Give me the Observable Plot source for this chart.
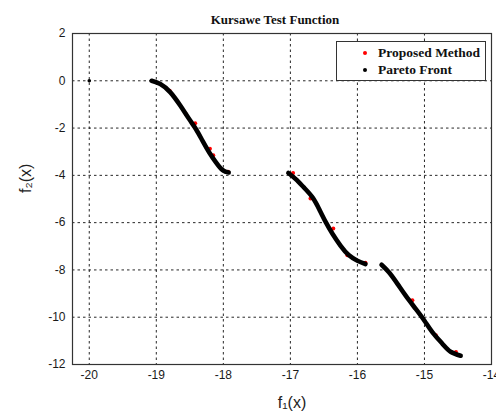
<!DOCTYPE html>
<html>
<head>
<meta charset="utf-8">
<script src="https://cdn.jsdelivr.net/npm/d3@7"></script>
<script src="https://cdn.jsdelivr.net/npm/@observablehq/plot@0.6"></script>
<style>
  html, body { margin: 0; padding: 0; background: #fff; }
  #wrap { position: relative; width: 496px; height: 418px; }
  #legend {
    position: absolute; left: 336px; top: 41px; width: 150px; height: 40px;
    border: 1px solid #333; background: #fff; box-sizing: border-box;
    font-family: "Liberation Serif", "DejaVu Serif", serif; font-weight: bold; font-size: 13.5px;
    color: #111;
  }
  .row { position: absolute; left: 41px; white-space: nowrap; line-height: 16px; }
  .mk { position: absolute; left: -15px; top: 6px; width: 4px; height: 4px; border-radius: 50%; }
</style>
</head>
<body>
<div id="wrap"></div>
<script>
// Title and labels
const title = "Kursawe Test Function";
const xLabel = "f\u2081(x)";
const yLabel = "f\u2082(x)";
const seriesNames = ["Proposed Method", "Pareto Front"];
const seriesColors = ["#ff0000", "#000000"];

const xTicks = [-20, -19, -18, -17, -16, -15, -14];
const yTicks = [2, 0, -2, -4, -6, -8, -10, -12];

// Pareto front, three segments
const paretoSeg = [1,1,1,1,1,1,1,1,1,1,1, 2,2,2,2,2,2,2,2,2,2,2, 3,3,3,3,3,3,3,3,3,3];
const paretoF1 = [-19.07,-18.94,-18.79,-18.64,-18.51,-18.41,-18.31,-18.21,-18.11,-18.01,-17.92,
                  -17.03,-16.92,-16.80,-16.67,-16.57,-16.47,-16.37,-16.25,-16.13,-16.00,-15.88,
                  -15.64,-15.53,-15.40,-15.28,-15.13,-15.00,-14.88,-14.73,-14.61,-14.46];
const paretoF2 = [0,-0.14,-0.49,-1.06,-1.62,-2.04,-2.54,-3.03,-3.45,-3.78,-3.88,
                  -3.90,-4.16,-4.51,-4.93,-5.43,-5.99,-6.48,-6.98,-7.37,-7.61,-7.75,
                  -7.78,-8.10,-8.60,-9.09,-9.65,-10.15,-10.64,-11.13,-11.46,-11.63];
// Isolated Pareto point
const isoF1 = [-20];
const isoF2 = [0];

// Proposed method points (visible red ones)
const propF1 = [-18.80,-18.56,-18.42,-18.20,-18.15,-17.93,-16.96,-16.70,-16.36,-16.15,-15.88,-15.18,-14.83,-14.53];
const propF2 = [-0.42,-1.41,-1.80,-2.87,-3.15,-3.85,-3.90,-4.98,-6.25,-7.38,-7.70,-9.28,-10.76,-11.47];

const pareto = paretoF1.map((x, i) => ({x, y: paretoF2[i], s: paretoSeg[i]}));
const iso = isoF1.map((x, i) => ({x, y: isoF2[i]}));
const prop = propF1.map((x, i) => ({x, y: propF2[i]}));

const font = "'Liberation Sans', Arial, sans-serif";

const chart = Plot.plot({
  width: 496,
  height: 418,
  marginLeft: 72,
  marginRight: 5,
  marginTop: 33,
  marginBottom: 54,
  style: {fontFamily: font, fontSize: "12px", color: "#1a1a1a", background: "#fff"},
  x: {domain: [-20.25, -14]},
  y: {domain: [-12, 2]},
  marks: [
    Plot.gridX(xTicks, {stroke: "#000", strokeOpacity: 0.85, strokeDasharray: "2.5,3"}),
    Plot.gridY(yTicks, {stroke: "#000", strokeOpacity: 0.85, strokeDasharray: "2.5,3"}),
    Plot.axisX(xTicks, {tickSize: 0, tickPadding: 6, label: null, fontSize: 12, tickFormat: d => String(d)}),
    Plot.axisY(yTicks, {tickSize: 0, tickPadding: 7, label: null, fontSize: 12, tickFormat: d => String(d)}),
    Plot.frame({stroke: "#333", strokeWidth: 1.2}),
    Plot.dot(prop, {x: "x", y: "y", r: 2, fill: seriesColors[0]}),
    Plot.line(pareto, {x: "x", y: "y", z: "s", stroke: seriesColors[1], strokeWidth: 4.6, curve: "natural", strokeLinecap: "round"}),
    Plot.dot(iso, {x: "x", y: "y", r: 1.8, fill: seriesColors[1]}),
    Plot.text([title], {frameAnchor: "top", dy: -19, dx: -7, fontFamily: "'Liberation Serif', serif", fontWeight: "bold", fontSize: 13, fill: "#111"}),
    Plot.text([xLabel], {frameAnchor: "bottom", dy: 43, dx: 10, fontSize: 16, fill: "#222"}),
    Plot.text([yLabel], {frameAnchor: "left", dx: -47, dy: -6, rotate: -90, fontSize: 16, fill: "#222"})
  ]
});

const wrap = document.getElementById("wrap");
wrap.appendChild(chart);

const legend = document.createElement("div");
legend.id = "legend";
seriesNames.forEach((name, i) => {
  const row = document.createElement("div");
  row.className = "row";
  row.style.top = (3 + i * 17) + "px";
  const mk = document.createElement("span");
  mk.className = "mk";
  mk.style.background = seriesColors[i];
  row.appendChild(mk);
  row.appendChild(document.createTextNode(name));
  legend.appendChild(row);
});
wrap.appendChild(legend);
</script>
</body>
</html>
